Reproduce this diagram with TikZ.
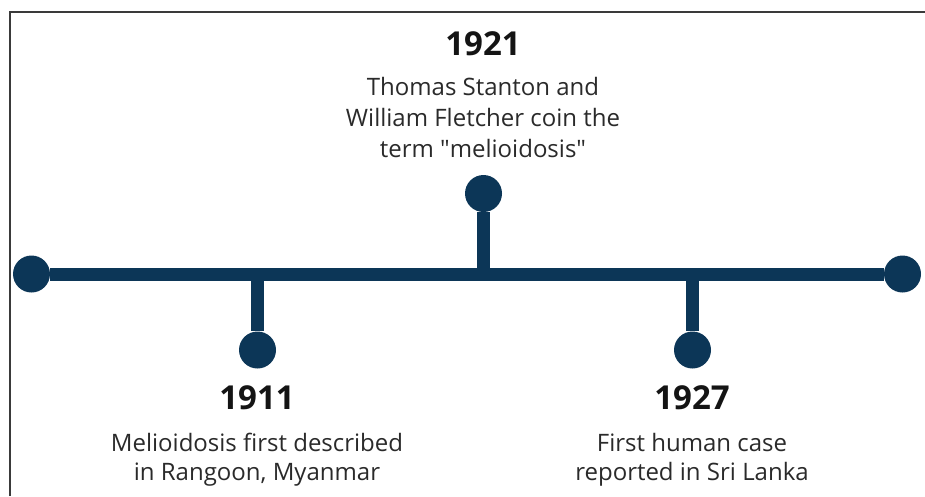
\documentclass[tikz,border=0pt]{standalone}
\usepackage{fontspec}
\setmainfont{Open Sans}
\definecolor{navy}{HTML}{0C3657}
\definecolor{bodytxt}{HTML}{2A2A2A}
\definecolor{frame}{HTML}{3A3A3A}
\tikzset{
  dot/.style={circle, fill=navy, draw=none, minimum size=37pt, inner sep=0pt},
  mainline/.style={draw=navy, line width=13pt},
  stem/.style={draw=navy, line width=12.5pt},
  year/.style={anchor=base, font=\fontsize{33}{37}\selectfont\bfseries, text=black!92, inner sep=0pt},
  desc/.style={anchor=base, font=\fontsize{24}{29}\selectfont, text=bodytxt, inner sep=0pt},
}
\begin{document}
\begin{tikzpicture}[x=1pt,y=-1pt]
\useasboundingbox (0,0) rectangle (925,496);
% frame (top and left edges only visible)
\draw[frame, line width=2pt] (10,496) -- (10,11.5) -- (925,11.5);
% dots
\node[dot] (e0) at (31.5,274) {};
\node[dot] (e1) at (902.5,274) {};
\node[dot] (d21) at (483.5,193.5) {};
\node[dot] (d11) at (257.5,350) {};
\node[dot] (d27) at (692.5,350) {};
% junctions on the main line
\coordinate (j21) at (483.5,274);
\coordinate (j11) at (257.5,274);
\coordinate (j27) at (692.5,274);
% connectors
\draw[mainline] (e0) -- (e1);
\draw[stem] (j21) -- (d21);
\draw[stem] (j11) -- (d11);
\draw[stem] (j27) -- (d27);
% texts 1921
\node[year] (y21) at (483,55) {1921};
\node[desc] (t21a) at (483,95) {Thomas Stanton and};
\node[desc] (t21b) at (483,126) {William Fletcher coin the};
\node[desc] (t21c) at (483,157) {term \textquotedbl melioidosis\textquotedbl};
% texts 1911
\node[year] (y11) at (257,409) {1911};
\node[desc] (t11a) at (257,451) {Melioidosis first described};
\node[desc] (t11b) at (257,480) {in Rangoon, Myanmar};
% texts 1927
\node[year] (y27) at (692,409) {1927};
\node[desc] (t27a) at (692,451) {First human case};
\node[desc] (t27b) at (692,480) {reported in Sri Lanka};
\end{tikzpicture}
\end{document}
